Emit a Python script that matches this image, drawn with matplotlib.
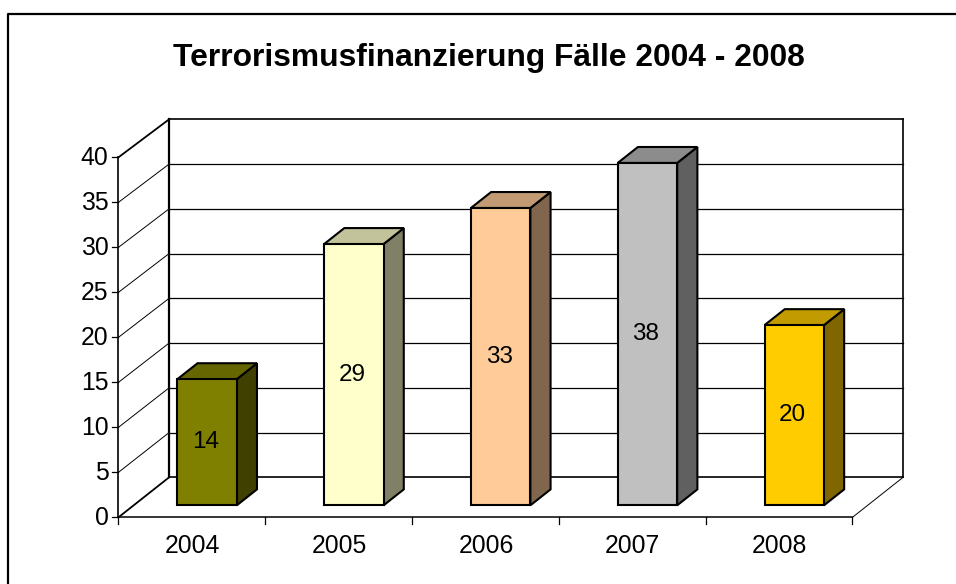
import matplotlib
matplotlib.use("Agg")
import matplotlib.pyplot as plt
from matplotlib.patches import Polygon

plt.rcParams["font.family"] = ["Liberation Sans", "DejaVu Sans"]

# data
years = ["2004", "2005", "2006", "2007", "2008"]
cases = [14, 29, 33, 38, 20]
y_ticks = [0, 5, 10, 15, 20, 25, 30, 35, 40]
title = "Terrorismusfinanzierung Fälle 2004 - 2008"

front_colors = ["#808000", "#FFFFCC", "#FFCC99", "#C0C0C0", "#FFCC00"]
side_colors = ["#404000", "#808066", "#80664D", "#606060", "#806600"]
top_colors = ["#666600", "#C2C29B", "#C29B74", "#8C8C8C", "#C29B00"]

# pixel layout of the fake 3d box
X0 = 118.5
Y0 = 517.3
CAT_W = 146.8
UNIT_FRONT = 9.0
UNIT_BACK = 8.95
DEPTH_X = 50.5
DEPTH_Y = 39.9
BAR_W = 0.405
BAR_D0 = 0.3
BAR_D1 = 0.7
BAR_UNIT = 9.01


def proj(cat, val, depth=0.0, unit=None):
    # category position, value, depth 0..1 -> pixel position
    if unit is None:
        unit = UNIT_FRONT + depth * (UNIT_BACK - UNIT_FRONT)
    return (X0 + cat * CAT_W + depth * DEPTH_X,
            Y0 - val * unit - depth * DEPTH_Y)


def line(ax, a, b, lw=1.0, color="black"):
    ax.plot([a[0], b[0]], [a[1], b[1]], color=color, lw=lw,
            solid_capstyle="projecting", zorder=2)


fig = plt.figure(figsize=(9.56, 5.84), dpi=100)
ax = fig.add_axes([0, 0, 1, 1])
ax.set_xlim(0, 956)
ax.set_ylim(584, 0)
ax.axis("off")

# outer chart frame, cropped on the right and at the bottom
ax.plot([8.5, 8.5, 956], [584, 13.5, 13.5], color="black", lw=1.6)

n = len(years)
ymax = y_ticks[-1]

# gridlines on back wall and side wall
for v in y_ticks[1:-1]:
    line(ax, proj(0, v, 1), proj(n, v, 1), lw=0.9)
    line(ax, proj(0, v, 0), proj(0, v, 1), lw=0.7)

# box edges
line(ax, proj(0, 0, 1), proj(0, ymax, 1), lw=1.6)
line(ax, proj(0, ymax, 1), proj(n, ymax, 1), lw=1.2)
line(ax, proj(n, 0, 1), proj(n, ymax, 1), lw=1.2)
line(ax, proj(0, 0, 1), proj(n, 0, 1), lw=1.2)
line(ax, proj(0, 0, 0), proj(0, ymax, 0), lw=1.2)
line(ax, proj(0, ymax, 0), proj(0, ymax, 1), lw=1.3)
line(ax, proj(0, 0, 0), proj(0, 0, 1), lw=1.3)
line(ax, proj(0, 0, 0), proj(n, 0, 0), lw=1.1)
line(ax, proj(n, 0, 0), proj(n, 0, 1), lw=0.7)

# ticks and tick labels
for v in y_ticks:
    x, y = proj(0, v, 0)
    ax.plot([x - 6, x], [y, y], color="black", lw=0.9)
    ax.text(x - 10, y - 2, str(v), ha="right", va="center_baseline", fontsize=17.8)

for i in range(n + 1):
    x, y = proj(i, 0, 0)
    ax.plot([x, x], [y, y + 6.5], color="black", lw=0.9)

for i, year in enumerate(years):
    x, y = proj(i + 0.5, 0, 0)
    ax.text(x + 0.5, y + 26, year, ha="center", va="center_baseline", fontsize=17.8)

# bars
for i, val in enumerate(cases):
    left = i + 0.5 - BAR_W / 2
    right = i + 0.5 + BAR_W / 2
    front = [proj(left, 0, BAR_D0), proj(right, 0, BAR_D0),
             proj(right, val, BAR_D0, BAR_UNIT), proj(left, val, BAR_D0, BAR_UNIT)]
    side = [proj(right, 0, BAR_D0), proj(right, 0, BAR_D1),
            proj(right, val, BAR_D1, BAR_UNIT), proj(right, val, BAR_D0, BAR_UNIT)]
    top = [proj(left, val, BAR_D0, BAR_UNIT), proj(right, val, BAR_D0, BAR_UNIT),
           proj(right, val, BAR_D1, BAR_UNIT), proj(left, val, BAR_D1, BAR_UNIT)]
    for pts, col in [(side, side_colors[i]), (top, top_colors[i]), (front, front_colors[i])]:
        ax.add_patch(Polygon(pts, closed=True, facecolor=col, edgecolor="black",
                             lw=1.5, joinstyle="miter", zorder=3))
    cx, cy = proj(i + 0.5, val / 2, BAR_D0, BAR_UNIT)
    ax.text(cx - 1.5, cy - 2.5, str(val), ha="center", va="center_baseline", fontsize=17.5, zorder=4)

ax.text(489, 66, title, ha="center", va="baseline", fontsize=22.9, fontweight="bold")

fig.savefig("out.png", dpi=100)
